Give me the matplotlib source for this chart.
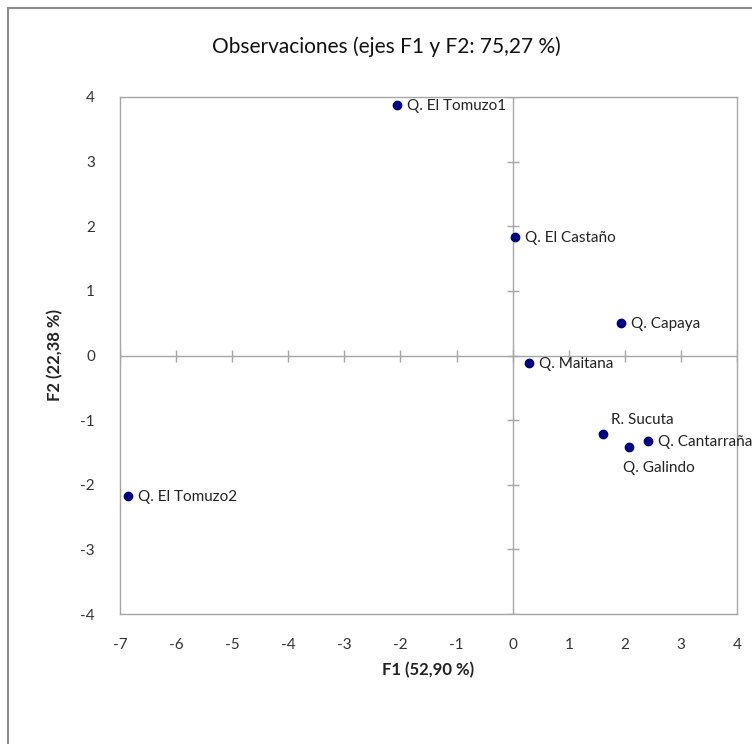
import matplotlib
matplotlib.use("Agg")
import matplotlib.pyplot as plt
from matplotlib.patches import Rectangle

plt.rcParams['font.family'] = ['Lato', 'DejaVu Sans']

names = ["Q. El Tomuzo1", "Q. El Castaño", "Q. Capaya", "Q. Maitana",
         "R. Sucuta", "Q. Cantarraña", "Q. Galindo", "Q. El Tomuzo2"]
f1 = [-2.06, 0.05, 1.93, 0.30, 1.61, 2.42, 2.08, -6.85]
f2 = [3.87, 1.83, 0.51, -0.11, -1.21, -1.32, -1.41, -2.18]
xticks = list(range(-7, 5))
yticks = list(range(-4, 5))

fig = plt.figure(figsize=(7.52, 7.44), dpi=100)
fig.patches.append(Rectangle((8/752, -0.05), 1.2, 0.989 + 0.05, transform=fig.transFigure,
                             fill=False, edgecolor='#8c8c8c', linewidth=1.5))
ax = fig.add_axes([120/752, 130/744, 617/752, 517/744])
ax.set_xlim(-7, 4)
ax.set_ylim(-4, 4)
for s in ax.spines.values():
    s.set_color('#a6a6a6')
    s.set_linewidth(1.0)
ax.axhline(0, color='#a6a6a6', lw=1.0, zorder=1)
ax.axvline(0, color='#a6a6a6', lw=1.0, zorder=1)
ax.plot(xticks, [0]*len(xticks), linestyle='none', marker='|', markersize=8,
        color='#a6a6a6', markeredgewidth=1.0, zorder=1)
ax.plot([0]*len(yticks), yticks, linestyle='none', marker='_', markersize=8,
        color='#a6a6a6', markeredgewidth=1.0, zorder=1)
ax.set_xticks(xticks)
ax.set_yticks(yticks)
ax.tick_params(axis='x', length=0, pad=17, labelsize=11, colors='#333333')
ax.tick_params(axis='y', length=0, pad=18, labelsize=11, colors='#333333')
ax.set_xticklabels([str(t) for t in xticks])
ax.set_yticklabels([str(t) for t in yticks])

ax.scatter(f1, f2, s=36, color='#000080', zorder=3)

offsets = {
    "R. Sucuta": (8, 14, 'left'),
    "Q. Galindo": (-6, -21, 'left'),
}
for n, x, y in zip(names, f1, f2):
    dx, dy, ha = offsets.get(n, (10, -1, 'left'))
    ax.annotate(n, (x, y), xytext=(dx, dy), textcoords='offset pixels',
                ha=ha, va='center', fontsize=11, color='#222222',
                annotation_clip=False)

fig.text(386/752, 1 - 47/744, "Observaciones (ejes F1 y F2: 75,27 %)",
         ha='center', va='center', fontsize=15, color='#111111')
fig.text(428/752, 1 - 670/744, "F1 (52,90 %)", ha='center', va='center',
         fontsize=12, fontweight='bold', color='#222222')
fig.text(55/752, 1 - 355/744, "F2 (22,38 %)", ha='center', va='center',
         rotation=90, fontsize=12, fontweight='bold', color='#222222')

fig.savefig("out.png", dpi=100)
